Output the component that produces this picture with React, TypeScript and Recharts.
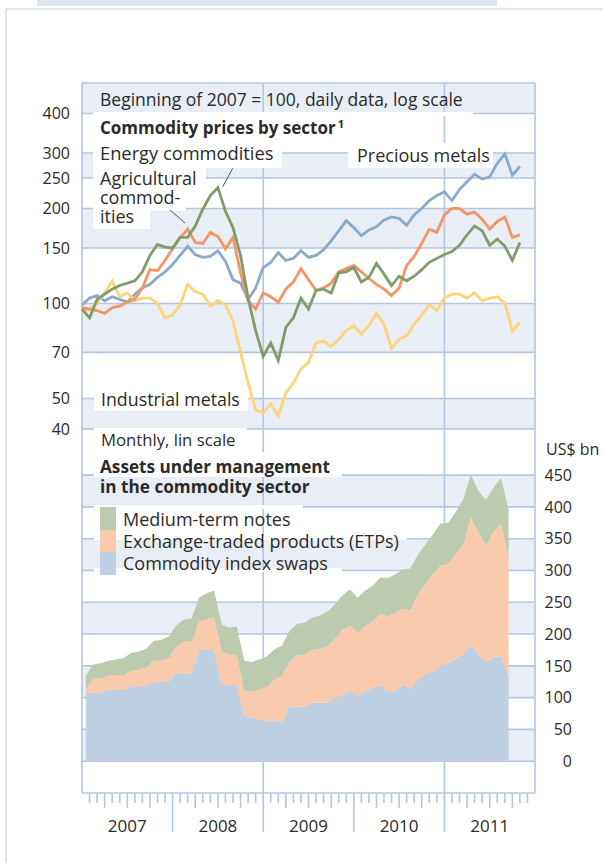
import React from 'react';
import { LineChart, Line, AreaChart, Area, XAxis, YAxis, CartesianGrid } from 'recharts';

const FONT = '"Open Sans", "Noto Sans", sans-serif';
const GRID = '#b4c6e1';
const BAND = '#e9eef6';
const TEXT = '#2b2b2b';

// price indices, beginning of 2007 = 100, one reading per month, Jan 2007 - Nov 2011
const preciousMetals = [
  99, 104, 106, 102, 105, 103, 101, 107, 112, 115, 121, 126,
  133, 142, 152, 143, 140, 141, 147, 136, 119, 116, 103, 112,
  130, 135, 145, 137, 139, 147, 140, 142, 148, 158, 170, 183,
  174, 164, 171, 175, 184, 188, 186, 177, 191, 200, 212, 220,
  226, 212, 230, 243, 257, 248, 252, 278, 298, 255, 272,
];
const agricultural = [
  97, 96, 95, 93, 97, 98, 101, 103, 112, 128, 127, 137,
  149, 162, 172, 156, 155, 168, 163, 149, 162, 125, 102, 96,
  108, 105, 101, 111, 117, 129, 119, 110, 112, 116, 126, 129,
  132, 126, 120, 115, 111, 106, 112, 132, 141, 155, 172, 168,
  191, 200, 200, 192, 195, 185, 172, 182, 188, 162, 165,
];
const energy = [
  96, 90, 103, 107, 111, 114, 116, 118, 126, 142, 154, 151,
  150, 162, 162, 176, 199, 220, 233, 196, 174, 142, 104, 82,
  68, 75, 66, 84, 90, 104, 96, 110, 111, 108, 125, 126,
  130, 117, 121, 134, 124, 114, 122, 118, 122, 128, 135, 139,
  143, 146, 153, 165, 176, 170, 153, 160, 152, 137, 156,
];
const industrialMetals = [
  94, 96, 100, 108, 118, 105, 108, 102, 104, 104, 100, 90,
  92, 99, 115, 109, 107, 98, 102, 99, 88, 70, 56, 46,
  45, 48, 44, 52, 56, 62, 65, 75, 76, 73, 77, 82,
  85, 80, 85, 93, 86, 72, 77, 79, 86, 92, 99, 95,
  104, 107, 107, 104, 108, 102, 104, 105, 100, 82, 87,
];

// assets under management, US$ bn, monthly Jan 2007 - Sep 2011
const indexSwaps = [
  108, 108, 108, 112, 112, 112, 118, 118, 118, 125, 125, 125,
  138, 138, 138, 175, 175, 175, 120, 120, 120, 72, 69, 66,
  63, 63, 63, 86, 86, 86, 92, 92, 92, 100, 103, 110,
  103, 109, 115, 119, 110, 110, 121, 114, 128, 137, 141, 150,
  155, 162, 168, 183, 168, 157, 164, 165, 135,
];
const etps = [
  6, 22, 22, 23, 23, 23, 24, 26, 29, 33, 33, 37,
  42, 51, 49, 45, 48, 52, 53, 47, 47, 39, 41, 47,
  54, 66, 71, 71, 81, 81, 83, 84, 89, 92, 104, 104,
  99, 104, 105, 112, 118, 124, 119, 123, 134, 141, 154, 158,
  155, 164, 173, 199, 192, 182, 196, 208, 187,
];
const mediumTermNotes = [
  21, 22, 24, 23, 25, 27, 28, 28, 30, 31, 33, 34,
  34, 34, 37, 37, 41, 41, 42, 43, 45, 47, 46, 47,
  48, 47, 48, 48, 49, 51, 51, 53, 54, 55, 54, 56,
  55, 55, 56, 58, 60, 60, 62, 66, 63, 63, 62, 66,
  65, 66, 71, 69, 65, 72, 70, 73, 74,
];

const priceTicks = [40, 50, 70, 100, 150, 200, 250, 300, 400];
const assetTicks = [0, 50, 100, 150, 200, 250, 300, 350, 400, 450];
const years = [2007, 2008, 2009, 2010, 2011];

const priceData = preciousMetals.map((v, k) => ({
  t: 2007 + k / 12,
  precious: v,
  agri: agricultural[k],
  energy: energy[k],
  industrial: industrialMetals[k],
}));

const assetData = indexSwaps.map((v, i) => ({
  t: 2007 + (i + 0.5) / 12,
  swaps: v,
  etp: etps[i],
  mtn: mediumTermNotes[i],
}));

// month boundaries for the time axis
const monthTicks: number[] = [];
for (let m = 1; m < years.length * 12; m++) monthTicks.push(years[0] + m / 12);

function MonthTick({ x, y, payload }: any) {
  const m = Math.round((payload.value - years[0]) * 12);
  const len = m % 12 === 0 ? 39 : m % 3 === 0 ? 15 : 10;
  return (
    <g>
      <line x1={x} x2={x} y1={y} y2={y + len} stroke={GRID} strokeWidth={1.6} />
      {m % 12 === 6 && (
        <text x={x} y={y + 39} textAnchor="middle" fontSize={17} fontFamily={FONT} fill={TEXT}>
          {years[0] + Math.floor(m / 12)}
        </text>
      )}
    </g>
  );
}

function RightTick({ x, y, payload }: any) {
  return (
    <text x={x + 37} y={y} dy="0.355em" textAnchor="end" fontSize={16} fontFamily={FONT} fill={TEXT}>
      {payload.value}
    </text>
  );
}

const box = (x: number, y: number, w: number, h: number) => (
  <rect x={x} y={y} width={w} height={h} fill="#fff" />
);

export default function App() {
  const label = { fontFamily: FONT, fill: TEXT };
  return (
    <div style={{ position: 'absolute', left: 0, top: 0, width: 603, height: 863, background: '#fff' }}>
      <svg width={603} height={863} style={{ position: 'absolute', left: 0, top: 0 }}>
        <rect x={37} y={0} width={460} height={6} fill="#dde5f0" />
        <line x1={6} y1={9} x2={603} y2={9} stroke="#d3dceb" strokeWidth={1.5} />
        <line x1={6} y1={9} x2={6} y2={863} stroke="#d3dceb" strokeWidth={1.5} />
      </svg>

      <div style={{ position: 'absolute', left: 0, top: 0 }}>
        <LineChart width={603} height={440} data={priceData} margin={{ top: 83, right: 68, bottom: 11, left: 0 }}>
          <CartesianGrid
            stroke={GRID}
            strokeWidth={1.6}
            horizontalValues={[...priceTicks, 500]}
            verticalValues={[2007, 2009, 2011, 2012]}
            horizontalFill={[BAND, '#fff']}
          />
          <XAxis type="number" dataKey="t" domain={[2007, 2012]} hide />
          <YAxis
            scale="log"
            domain={[40, 500]}
            allowDataOverflow
            ticks={priceTicks}
            interval={0}
            width={82}
            tickSize={0}
            tickMargin={12}
            axisLine={false}
            tickLine={false}
            tick={{ fill: TEXT, fontSize: 16, fontFamily: FONT }}
          />
          <Line dataKey="precious" stroke="#89aacb" strokeWidth={2.8} dot={false} isAnimationActive={false} />
          <Line dataKey="industrial" stroke="#fdd478" strokeWidth={2.8} dot={false} isAnimationActive={false} />
          <Line dataKey="agri" stroke="#f49664" strokeWidth={2.8} dot={false} isAnimationActive={false} />
          <Line dataKey="energy" stroke="#809c6a" strokeWidth={2.8} dot={false} isAnimationActive={false} />
        </LineChart>
      </div>

      <div style={{ position: 'absolute', left: 0, top: 420 }}>
        <AreaChart width={603} height={443} data={assetData} margin={{ top: 9, right: 0, bottom: 30, left: 82 }}>
          <CartesianGrid
            stroke={GRID}
            strokeWidth={1.6}
            horizontalValues={[-50, ...assetTicks, 522.5]}
            verticalValues={[2007, 2009, 2011, 2012]}
            horizontalFill={['#fff', BAND]}
          />
          <XAxis
            type="number"
            dataKey="t"
            domain={[2007, 2012]}
            ticks={monthTicks}
            interval={0}
            height={40}
            tickSize={0}
            tickMargin={0}
            axisLine={false}
            tickLine={false}
            tick={<MonthTick />}
          />
          <YAxis
            orientation="right"
            domain={[-50, 522.5]}
            allowDataOverflow
            ticks={assetTicks}
            interval={0}
            width={68}
            tickSize={0}
            tickMargin={0}
            axisLine={false}
            tickLine={false}
            tick={<RightTick />}
          />
          <Area type="linear" dataKey="swaps" stackId="a" stroke="none" fill="#bed0e1" fillOpacity={1} isAnimationActive={false} />
          <Area type="linear" dataKey="etp" stackId="a" stroke="none" fill="#facaac" fillOpacity={1} isAnimationActive={false} />
          <Area type="linear" dataKey="mtn" stackId="a" stroke="none" fill="#bccab0" fillOpacity={1} isAnimationActive={false} />
        </AreaChart>
      </div>

      <svg width={603} height={863} style={{ position: 'absolute', left: 0, top: 0, pointerEvents: 'none' }}>
        <text x={100} y={105.5} fontSize={17.5} {...label}>Beginning of 2007 = 100, daily data, log scale</text>

        {box(93, 112, 380, 4)}
        {box(93, 116, 262, 27)}
        <text x={100} y={134.3} fontSize={17} fontWeight="bold" {...label}>
          Commodity prices by sector<tspan dx={2} dy={-6} fontSize={11}>1</tspan>
        </text>

        {box(93, 143, 189, 25)}
        <text x={100} y={160} fontSize={18.3} {...label}>Energy commodities</text>

        {box(93, 168, 113, 22)}
        {box(93, 190, 93, 21)}
        {box(93, 211, 57, 18)}
        <text x={100} y={185} fontSize={18} {...label}>Agricultural</text>
        <text x={100} y={204} fontSize={18} {...label}>commod-</text>
        <text x={100} y={223} fontSize={18} {...label}>ities</text>
        <line x1={232.7} y1={168.3} x2={222.7} y2={186.7} stroke="#555" strokeWidth={1} />
        <line x1={170} y1={210} x2={185} y2={223} stroke="#555" strokeWidth={1} />

        {box(348, 143, 145, 25)}
        <text x={357} y={162} fontSize={18} {...label}>Precious metals</text>

        {box(94, 388, 154, 23)}
        <text x={101} y={405.7} fontSize={17.8} {...label}>Industrial metals</text>

        {box(94, 428, 153, 24)}
        <text x={101} y={446} fontSize={16.7} {...label}>Monthly, lin scale</text>

        {box(94, 452, 248, 25)}
        <text x={100} y={472.7} fontSize={17.2} fontWeight="bold" {...label}>Assets under management</text>
        <text x={100} y={493.3} fontSize={17.2} fontWeight="bold" {...label}>in the commodity sector</text>

        {box(94, 505, 209, 4)}
        {box(94, 536, 313, 4)}
        {box(94, 568, 248, 4)}
        <rect x={100} y={507} width={16} height={23} fill="#bccab0" />
        <rect x={100} y={530} width={16} height={22} fill="#facaac" />
        <rect x={100} y={552} width={16} height={23} fill="#bed0e1" />
        <text x={123} y={526} fontSize={18} {...label}>Medium-term notes</text>
        <text x={123} y={548.3} fontSize={18} {...label}>Exchange-traded products (ETPs)</text>
        <text x={123} y={569.5} fontSize={18} {...label}>Commodity index swaps</text>

        <text x={546} y={455} fontSize={16} {...label}>US$ bn</text>
      </svg>
    </div>
  );
}
